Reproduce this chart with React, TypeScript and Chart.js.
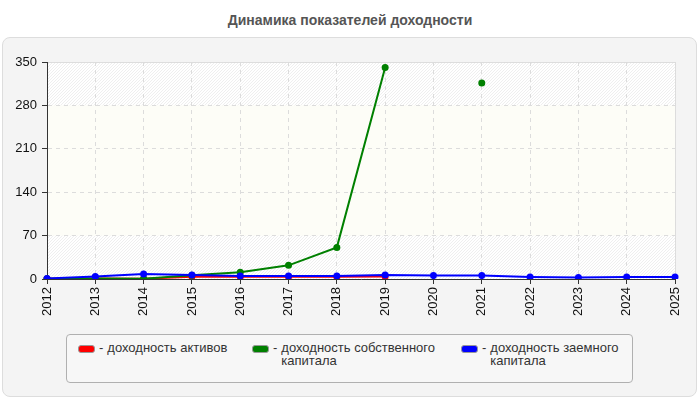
import React, { useEffect, useRef } from "react";
import { Chart, registerables } from "chart.js";

Chart.register(...registerables);

const years = ["2012","2013","2014","2015","2016","2017","2018","2019","2020","2021","2022","2023","2024","2025"];
const assetsReturn = [0.5, 1, 0.5, 3.5, 3.5, 3.5, 3.5, 4, null, null, null, null, null, null];
const equityReturn = [0.5, 1, 0.5, 6, 11, 22, 51, 341, null, 316, null, null, null, null];
const debtReturn = [1, 4, 8, 6.5, 5, 5, 5, 6.5, 5.5, 5.5, 3.3, 2.5, 3.3, 3.3];
const yTicks = [0, 70, 140, 210, 280, 350];
const legendLabels = ["- доходность активов", "- доходность собственного\nкапитала", "- доходность заемного\nкапитала"];
const colors = ["#ff0000", "#008000", "#0000ff"];
const title = "Динамика показателей доходности";

const bgPlugin = {
  id: "plotBg",
  beforeDraw(chart: any) {
    const { ctx, chartArea: a, scales } = chart;
    ctx.save();
    ctx.beginPath();
    ctx.rect(a.left, a.top, a.right - a.left, a.bottom - a.top);
    ctx.clip();
    ctx.fillStyle = "#ffffff";
    ctx.fillRect(a.left, a.top, a.right - a.left, a.bottom - a.top);
    ctx.strokeStyle = "#efefef";
    ctx.lineWidth = 1;
    const h = a.bottom - a.top;
    for (let x = a.left - h; x < a.right + h; x += 3) {
      ctx.beginPath();
      ctx.moveTo(x, a.bottom);
      ctx.lineTo(x + h, a.top);
      ctx.stroke();
    }
    const y1 = scales.y.getPixelForValue(280);
    const y2 = scales.y.getPixelForValue(70);
    ctx.fillStyle = "#fdfdf7";
    ctx.fillRect(a.left, y1, a.right - a.left, y2 - y1);
    ctx.restore();
    ctx.save();
    ctx.strokeStyle = "#dddddd";
    ctx.lineWidth = 1;
    ctx.beginPath();
    ctx.moveTo(a.left, Math.round(a.top) + 0.5);
    ctx.lineTo(Math.round(a.right) + 0.5, Math.round(a.top) + 0.5);
    ctx.lineTo(Math.round(a.right) + 0.5, a.bottom);
    ctx.stroke();
    ctx.restore();
  },
};

export default function App() {
  const ref = useRef<HTMLCanvasElement | null>(null);
  useEffect(() => {
    if (!ref.current) return;
    const mk = (label: string, data: any[], color: string, order: number) => ({
      label,
      data,
      borderColor: color,
      backgroundColor: color,
      borderWidth: 2,
      pointRadius: 3.5,
      pointBorderWidth: 0,
      pointBackgroundColor: color,
      tension: 0,
      order,
    });
    const chart = new Chart(ref.current, {
      type: "line",
      data: {
        labels: years,
        datasets: [
          mk(legendLabels[0], assetsReturn, colors[0], 2),
          mk(legendLabels[1], equityReturn, colors[1], 1),
          mk(legendLabels[2], debtReturn, colors[2], 0),
        ],
      },
      options: {
        animation: false,
        responsive: false,
        layout: { padding: { left: 7, right: 25, top: 62, bottom: 76 } },
        plugins: { legend: { display: false }, tooltip: { enabled: false }, title: { display: false } },
        scales: {
          x: {
            offset: false,
            afterFit: (s: any) => { s.height = 45; },
            grid: {
              color: "#dcdcdc",
              tickColor: "#333333",
              tickBorderDash: [],
              tickLength: 5,
              drawOnChartArea: true,
            },
            border: { color: "#333333", width: 1, dash: [4, 4] },
            ticks: {
              minRotation: 90,
              maxRotation: 90,
              autoSkip: false,
              color: "#111111",
              padding: 3,
              font: { family: "'Liberation Sans', Arial, sans-serif", size: 13 },
            },
          },
          y: {
            min: 0,
            max: 350,
            afterFit: (s: any) => { s.width = 40; },
            afterBuildTicks: (s: any) => { s.ticks = yTicks.map((v) => ({ value: v })); },
            grid: {
              color: "#dcdcdc",
              tickColor: "#333333",
              tickBorderDash: [],
              tickLength: 5,
            },
            border: { color: "#333333", width: 1, dash: [4, 4] },
            ticks: {
              color: "#111111",
              padding: 5,
              font: { family: "'Liberation Sans', Arial, sans-serif", size: 13 },
            },
          },
        },
      },
      plugins: [bgPlugin],
    } as any);
    return () => chart.destroy();
  }, []);

  const legendLeft = [11, 185, 394];
  return (
    <div style={{ position: "absolute", left: 0, top: 0, width: 700, height: 400, fontFamily: "'Liberation Sans', Arial, sans-serif" }}>
      <div style={{ position: "absolute", left: 0, top: 12, width: 700, textAlign: "center", fontWeight: "bold", fontSize: 14, color: "#555555" }}>
        {title}
      </div>
      <div style={{ position: "absolute", left: 2, top: 37, width: 693, height: 358, border: "1px solid #dddddd", borderRadius: 8, background: "#f4f4f4" }} />
      <canvas ref={ref} width={700} height={400} style={{ position: "absolute", left: 0, top: 0, width: 700, height: 400 }} />
      <div style={{ position: "absolute", left: 66, top: 334, width: 565, height: 47, border: "1px solid #b0b0b0", borderRadius: 4, background: "#f7f7f7" }}>
        {legendLabels.map((lab, i) => (
          <div key={i} style={{ position: "absolute", left: legendLeft[i], top: 6, display: "flex", alignItems: "flex-start" }}>
            <div style={{ width: 17, height: 8, marginTop: 4, borderRadius: 3, background: colors[i], border: "1px solid #999", boxSizing: "border-box" }} />
            <div style={{ marginLeft: 4, fontSize: 13, lineHeight: "13px", color: "#333333" }}>-</div>
            <div style={{ marginLeft: 4, fontSize: 13, lineHeight: "13px", color: "#333333", whiteSpace: "pre-line" }}>{lab.slice(2)}</div>
          </div>
        ))}
      </div>
    </div>
  );
}
